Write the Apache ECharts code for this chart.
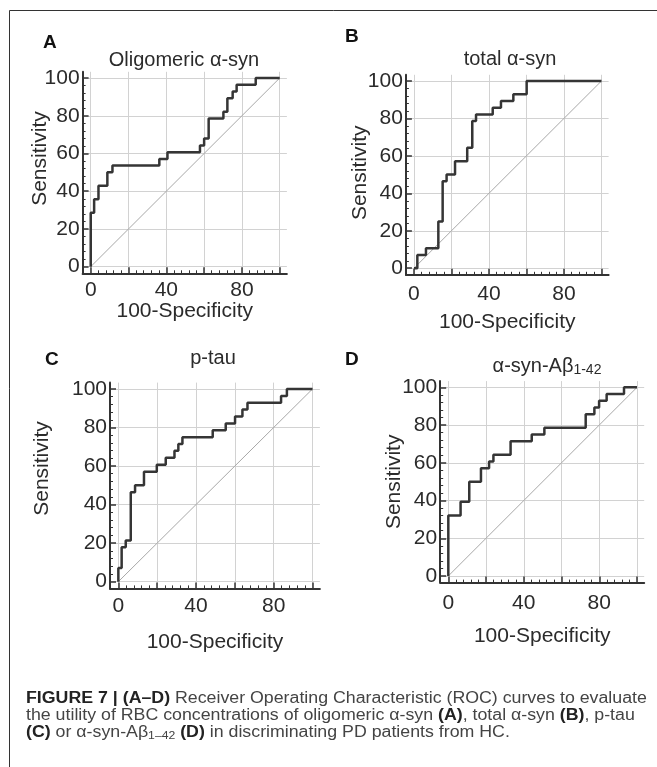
<!DOCTYPE html>
<html>
<head>
<meta charset="utf-8">
<script src="https://cdn.jsdelivr.net/npm/echarts@6/dist/echarts.min.js"></script>
<style>
  html, body { margin: 0; padding: 0; background: #fff; }
  #chart { width: 657px; height: 767px; }
</style>
</head>
<body>
<div id="chart"></div>
<script>
// ROC step vertices (100-Specificity, Sensitivity)
const specA = [0, 0, 1.8, 4.1, 8.8, 11.5, 36.3, 40.6, 57.8, 60, 62.4, 70.2, 72.3, 75.1, 77.2, 87.3, 100]
const sensA = [0, 28.6, 35.7, 42.9, 50, 53.6, 57.1, 60.7, 64.3, 67.9, 78.6, 82.1, 89.3, 92.9, 96.4, 100, 100]

const specB = [0, 1.8, 6.4, 13, 15.3, 17.4, 21.9, 28.4, 31.1, 33.1, 42, 46.4, 53, 60.1, 100]
const sensB = [0, 7.1, 10.7, 25, 46.4, 50, 57.1, 64.3, 78.6, 82.1, 85.7, 89.3, 92.9, 100, 100]

const specC = [0, 0, 1.7, 3.8, 6.4, 8.6, 13.2, 19.8, 24.4, 28.9, 30.9, 33, 48.6, 55.3, 60.1, 63.9, 66.5, 83.8, 86.8, 100]
const sensC = [0, 7.1, 17.9, 21.4, 46.4, 50, 57.1, 60.7, 64.3, 67.9, 71.4, 75, 78.6, 82.1, 85.7, 89.3, 92.9, 96.4, 100, 100]

const specD = [0, 0, 6.5, 11.1, 17.3, 21.6, 23.9, 33, 44.2, 50.9, 72.8, 77.4, 79.9, 83.9, 93.1, 100]
const sensD = [0, 32.1, 39.3, 50, 57.1, 60.7, 64.3, 71.4, 75, 78.6, 85.7, 89.3, 92.9, 96.4, 100, 100]

// reference diagonal
const diagX = [0, 100]
const diagY = [0, 100]

// ticks and labels
const majorTicks = [0, 20, 40, 60, 80, 100]
const minorTicks = [4, 8, 12, 16, 24, 28, 32, 36, 44, 48, 52, 56, 64, 68, 72, 76, 84, 88, 92, 96]
const xLabelTicks = [0, 40, 80]
const yLabelTicks = [0, 20, 40, 60, 80, 100]

const titles = ['Oligomeric α-syn', 'total α-syn', 'p-tau', '{m|α-syn-Aβ}{s|1-42}']
const letters = ['A', 'B', 'C', 'D']

const FONT = '"Liberation Sans", Arial, Helvetica, sans-serif'
const INK = '#2b2b2b'

// panel layout (px)
const panels = [
  { spec: specA, sens: sensA, grid: { left: 82.6, top: 71.8, width: 204.3, height: 201.5 },
    xLabelGap: 6, xNameGap: 27, yNameGap: 32, yNameShift: 14,
    title: [184, 60], letter: [43, 42.5] },
  { spec: specB, sens: sensB, grid: { left: 405.9, top: 74.8, width: 202.7, height: 200 },
    xLabelGap: 9, xNameGap: 37, yNameGap: 35, yNameShift: 2,
    title: [510, 59], letter: [345, 37] },
  { spec: specC, sens: sensC, grid: { left: 110, top: 382.6, width: 209.9, height: 205.8 },
    xLabelGap: 7, xNameGap: 43, yNameGap: 57, yNameShift: 17,
    title: [213, 358], letter: [45, 360] },
  { spec: specD, sens: sensD, grid: { left: 440.2, top: 381.1, width: 204, height: 201.5 },
    xLabelGap: 10, xNameGap: 43, yNameGap: 35, yNameShift: 0,
    title: [547, 366], letter: [345, 360] },
]

const X_MIN = -4.3
const X_MAX = 103.8
const Y_MIN = -3.5
const Y_MAX = 103.3

const grid = []
const xAxis = []
const yAxis = []
const series = []
const graphic = []

panels.forEach((p, i) => {
  grid.push({ ...p.grid, containLabel: false, outerBoundsMode: 'none' })

  xAxis.push({
    gridIndex: i,
    type: 'value',
    min: X_MIN,
    max: X_MAX,
    name: '100-Specificity',
    nameLocation: 'middle',
    nameGap: p.xNameGap,
    nameMoveOverlap: false,
    nameTextStyle: { fontFamily: FONT, fontSize: 21, color: INK },
    axisLine: { show: true, onZero: false, lineStyle: { color: '#333', width: 2 } },
    axisTick: { show: true, inside: true, length: 6, customValues: majorTicks, lineStyle: { color: '#333', width: 1.5 } },
    axisLabel: { customValues: xLabelTicks, margin: p.xLabelGap, fontFamily: FONT, fontSize: 21, color: INK },
    splitLine: { show: true, lineStyle: { color: '#d2d2d2', width: 1 } },
  })
  xAxis.push({
    gridIndex: i,
    type: 'value',
    position: 'bottom',
    min: X_MIN,
    max: X_MAX,
    axisLine: { show: false, onZero: false },
    axisTick: { show: true, inside: true, length: 3, customValues: minorTicks, lineStyle: { color: '#333', width: 1 } },
    axisLabel: { show: false },
    splitLine: { show: false },
  })

  yAxis.push({
    gridIndex: i,
    type: 'value',
    min: Y_MIN,
    max: Y_MAX,
    name: 'Sensitivity',
    nameLocation: 'middle',
    nameGap: p.yNameGap,
    nameMoveOverlap: false,
    nameTextStyle: { fontFamily: FONT, fontSize: 21, color: INK, padding: [0, 0, 0, p.yNameShift * 2] },
    axisLine: { show: true, onZero: false, lineStyle: { color: '#333', width: 2 } },
    axisTick: { show: true, inside: true, length: 6, customValues: majorTicks, lineStyle: { color: '#333', width: 1.5 } },
    axisLabel: { customValues: yLabelTicks, margin: 3, fontFamily: FONT, fontSize: 21, color: INK },
    splitLine: { show: true, lineStyle: { color: '#d2d2d2', width: 1 } },
  })
  yAxis.push({
    gridIndex: i,
    type: 'value',
    position: 'left',
    min: Y_MIN,
    max: Y_MAX,
    axisLine: { show: false, onZero: false },
    axisTick: { show: true, inside: true, length: 3, customValues: minorTicks, lineStyle: { color: '#333', width: 1 } },
    axisLabel: { show: false },
    splitLine: { show: false },
  })

  series.push({
    type: 'line',
    xAxisIndex: i * 2,
    yAxisIndex: i * 2,
    showSymbol: false,
    silent: true,
    lineStyle: { color: '#a8a8a8', width: 1 },
    data: diagX.map((v, k) => [v, diagY[k]]),
  })
  series.push({
    type: 'line',
    xAxisIndex: i * 2,
    yAxisIndex: i * 2,
    step: 'end',
    showSymbol: false,
    silent: true,
    lineStyle: { color: '#353535', width: 2.5 },
    data: p.spec.map((v, k) => [v, p.sens[k]]),
  })

  // panel title and letter
  graphic.push({
    type: 'text',
    x: p.title[0],
    y: p.title[1],
    style: {
      text: titles[i],
      font: '20px ' + FONT,
      fill: INK,
      align: 'center',
      verticalAlign: 'middle',
      rich: {
        m: { fontSize: 20, fontFamily: FONT, fill: INK },
        s: { fontSize: 14, fontFamily: FONT, fill: INK, verticalAlign: 'bottom', padding: [8, 0, 0, 0] },
      },
    },
  })
  graphic.push({
    type: 'text',
    x: p.letter[0],
    y: p.letter[1],
    style: { text: letters[i], font: 'bold 19px ' + FONT, fill: '#111', align: 'left', verticalAlign: 'middle' },
  })
})

// frame
graphic.push({ type: 'line', shape: { x1: 9.5, y1: 10.5, x2: 657, y2: 10.5 }, style: { stroke: '#333', lineWidth: 1 } })
graphic.push({ type: 'line', shape: { x1: 9.5, y1: 10.5, x2: 9.5, y2: 767 }, style: { stroke: '#333', lineWidth: 1 } })

// caption (source type is a little wider than Liberation Sans, hence scaleX)
const capRich = {
  b: { fontWeight: 'bold', fontSize: 16, fontFamily: FONT, fill: '#222' },
  sub: { fontSize: 11, fontFamily: FONT, fill: '#444', verticalAlign: 'bottom', padding: [6, 0, 0, 0] },
}
const captionLines = [
  '{b|FIGURE 7 | (A–D)} Receiver Operating Characteristic (ROC) curves to evaluate',
  'the utility of RBC concentrations of oligomeric α-syn {b|(A)}, total α-syn {b|(B)}, p-tau',
  '{b|(C)} or α-syn-Aβ{sub|1–42} {b|(D)} in discriminating PD patients from HC.',
]
const captionY = [699, 716, 733]
captionLines.forEach((t, k) => {
  graphic.push({
    type: 'text',
    x: 26,
    y: captionY[k],
    scaleX: 1.11,
    style: { text: t, font: '16px ' + FONT, fill: '#444', align: 'left', verticalAlign: 'middle', rich: capRich },
  })
})

const chart = echarts.init(document.getElementById('chart'))
chart.setOption({
  animation: false,
  backgroundColor: '#fff',
  grid,
  xAxis,
  yAxis,
  series,
  graphic,
})
</script>
</body>
</html>
